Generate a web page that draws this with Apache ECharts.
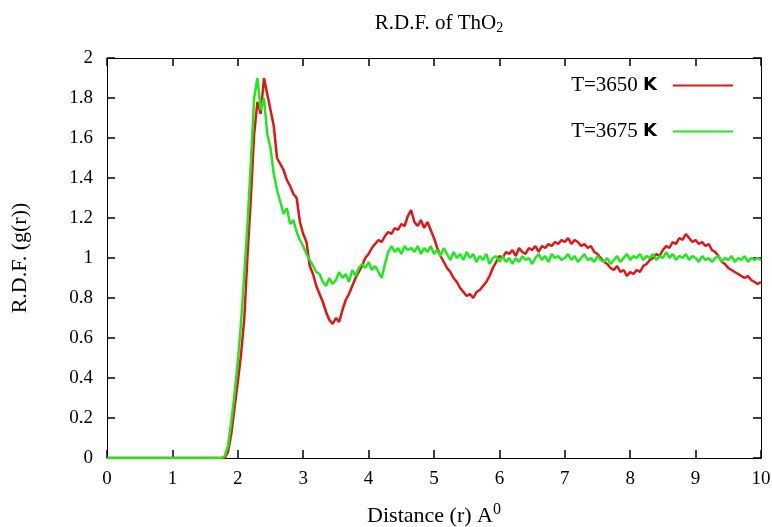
<!DOCTYPE html>
<html>
<head>
<meta charset="utf-8">
<script src="https://cdn.jsdelivr.net/npm/echarts@6/dist/echarts.min.js"></script>
<style>
  html, body { margin: 0; padding: 0; background: #fff; }
  #rdf { width: 772px; height: 527px; }
</style>
</head>
<body>
<div id="rdf"></div>
<script>
// samples are taken every 0.05 A, starting at r = 0
const rStep = 0.05;
const seriesNames = ['T=3650 K', 'T=3675 K'];
const xTicks = [0, 1, 2, 3, 4, 5, 6, 7, 8, 9, 10];

// T=3650 K
const g3650 = [
  0,0,0,0,0,0,0,0,0,0, 0,0,0,0,0,0,0,0,0,0, 0,0,0,0,0,0,0,0,0,0, 0,0,0,0,0,0,
  0.00,0.03,0.12,0.25,0.38,0.52,0.70,1.02,1.30,1.62,
  1.78,1.72,1.90,1.82,1.74,1.66,1.50,1.47,1.44,1.39,
  1.36,1.32,1.30,1.18,1.12,1.08,0.96,0.92,0.86,0.82,
  0.78,0.73,0.69,0.67,0.70,0.68,0.74,0.79,0.82,0.86,
  0.90,0.93,0.96,1.00,1.02,1.05,1.07,1.09,1.08,1.11,
  1.13,1.12,1.15,1.14,1.17,1.16,1.21,1.24,1.18,1.16,
  1.19,1.15,1.18,1.14,1.10,1.05,1.01,0.98,0.95,0.93,
  0.90,0.88,0.85,0.83,0.81,0.82,0.80,0.83,0.84,0.86,
  0.88,0.91,0.95,0.98,1.01,1.00,1.03,1.02,1.04,1.01,
  1.05,1.03,1.02,1.05,1.04,1.06,1.03,1.06,1.05,1.07,
  1.06,1.08,1.07,1.09,1.08,1.10,1.07,1.09,1.08,1.06,
  1.07,1.05,1.06,1.03,1.02,1.00,0.98,0.97,0.95,0.94,
  0.96,0.93,0.94,0.91,0.93,0.92,0.94,0.93,0.96,0.97,
  0.99,1.00,1.02,1.01,1.04,1.06,1.05,1.08,1.07,1.10,
  1.09,1.12,1.10,1.08,1.09,1.07,1.08,1.06,1.07,1.04,
  1.03,1.01,0.98,0.97,0.95,0.94,0.93,0.92,0.91,0.90,
  0.91,0.89,0.88,0.87,0.88
];

// T=3675 K
const g3675 = [
  0,0,0,0,0,0,0,0,0,0, 0,0,0,0,0,0,0,0,0,0, 0,0,0,0,0,0,0,0,0,0, 0,0,0,0,0,0,
  0.01,0.06,0.18,0.32,0.48,0.68,0.92,1.18,1.48,1.80,
  1.90,1.74,1.80,1.62,1.55,1.42,1.34,1.28,1.22,1.25,
  1.17,1.19,1.13,1.09,1.06,1.02,0.99,0.96,0.93,0.92,
  0.88,0.86,0.90,0.87,0.89,0.93,0.90,0.92,0.88,0.94,
  0.91,0.95,0.97,0.95,0.98,0.94,0.96,0.93,0.90,0.97,
  1.03,1.06,1.03,1.05,1.02,1.06,1.04,1.05,1.03,1.06,
  1.02,1.05,1.03,1.06,1.02,1.04,1.01,1.05,1.02,0.99,
  1.03,1.00,1.02,0.99,1.03,1.00,1.02,0.98,1.01,0.99,
  1.02,0.97,1.00,1.01,0.98,1.01,0.98,1.00,0.97,1.00,
  0.98,1.01,0.99,1.00,0.97,1.00,1.02,0.99,1.01,0.98,
  1.02,1.00,1.01,0.99,1.00,1.02,0.99,1.01,0.98,1.00,
  1.02,0.99,1.00,0.98,1.01,0.99,0.98,1.00,0.97,0.99,
  1.01,0.98,1.00,1.02,0.99,1.01,1.00,1.02,0.99,1.01,
  1.00,1.02,0.99,1.01,1.00,1.03,1.00,1.02,0.99,1.01,
  1.00,1.02,0.99,1.01,1.00,0.98,1.01,0.99,1.00,0.98,
  1.00,1.01,0.98,1.00,0.99,1.01,0.98,1.00,0.99,1.01,
  0.98,1.00,0.99,1.00,0.99
];

const serif = '"Liberation Serif", "DejaVu Serif", serif';
const colors = ['#e41414', '#1ee81e'];
const TICK = 8; // inward tick length in px

function toPairs(arr) {
  return arr.map((g, i) => [+(i * rStep).toFixed(2), g]);
}

const myChart = echarts.init(document.getElementById('rdf'));

// frame border lines (all four sides), no ticks of their own
function frameAxis(extra) {
  return Object.assign({
    axisLine: { show: true, onZero: false, lineStyle: { color: '#000', width: 1 } },
    axisTick: { show: false },
    splitLine: { show: false }
  }, extra);
}

// thin strips along the inside of the frame: their split lines are the inward ticks
function tickAxis(gridIndex, min, max, interval) {
  return {
    type: 'value', gridIndex: gridIndex, min: min, max: max, interval: interval,
    axisLine: { show: false }, axisTick: { show: false }, axisLabel: { show: false },
    splitLine: { show: true, lineStyle: { color: '#000', width: 1.5 } }
  };
}
function blankAxis(gridIndex) {
  return {
    type: 'value', gridIndex: gridIndex, min: 0, max: 1,
    axisLine: { show: false }, axisTick: { show: false }, axisLabel: { show: false },
    splitLine: { show: false }
  };
}

const option = {
  animation: false,
  color: colors,
  title: {
    text: 'R.D.F. of ThO{sub|2}',
    left: 434,
    textAlign: 'center',
    top: 6,
    textStyle: {
      fontFamily: serif,
      fontSize: 21,
      fontWeight: 'normal',
      color: '#000',
      rich: {
        sub: { fontFamily: serif, fontSize: 14, verticalAlign: 'bottom', padding: [10, 0, 0, 0], color: '#000' }
      }
    }
  },
  legend: {
    orient: 'vertical',
    right: 34,
    top: 70,
    align: 'right',
    itemGap: 25,
    itemWidth: 60,
    itemHeight: 2,
    icon: 'rect',
    data: seriesNames,
    formatter: (name) => name.replace(' K', ' {k|K}'),
    textStyle: {
      fontFamily: serif,
      fontSize: 21,
      color: '#000',
      padding: [0, 11, 0, 0],
      rich: {
        k: { fontFamily: '"DejaVu Sans", sans-serif', fontWeight: 'bold', fontSize: 18, color: '#000' }
      }
    }
  },
  grid: [
    { left: 107, right: 11, top: 58, bottom: 69, outerBoundsMode: 'none' },
    { left: 107, right: 11, bottom: 69, height: TICK, outerBoundsMode: 'none' },  // bottom ticks
    { left: 107, right: 11, top: 58, height: TICK, outerBoundsMode: 'none' },     // top ticks
    { left: 107, width: TICK, top: 58, bottom: 69, outerBoundsMode: 'none' },     // left ticks
    { right: 11, width: TICK, top: 58, bottom: 69, outerBoundsMode: 'none' }      // right ticks
  ],
  xAxis: [
    frameAxis({
      type: 'value',
      min: 0, max: 10, interval: 1,
      name: 'Distance (r) A{sup|0}',
      nameLocation: 'middle',
      nameGap: 44,
      nameTextStyle: {
        fontFamily: serif, fontSize: 22, color: '#000',
        rich: { sup: { fontFamily: serif, fontSize: 16, verticalAlign: 'top', padding: [0, 0, 12, 0], color: '#000' } }
      },
      axisLabel: { fontFamily: serif, fontSize: 19, color: '#000', margin: 12,
        formatter: (v) => xTicks.includes(v) ? String(v) : '' }
    }),
    frameAxis({
      type: 'value', position: 'top', min: 0, max: 10, interval: 1,
      axisLabel: { show: false }
    }),
    tickAxis(1, 0, 10, 1),
    tickAxis(2, 0, 10, 1),
    blankAxis(3),
    blankAxis(4)
  ],
  yAxis: [
    frameAxis({
      type: 'value',
      min: 0, max: 2, interval: 0.2,
      name: 'R.D.F. (g(r))',
      nameLocation: 'middle',
      nameGap: 76,
      nameTextStyle: { fontFamily: serif, fontSize: 22, color: '#000' },
      axisLabel: { fontFamily: serif, fontSize: 19, color: '#000', margin: 14,
        formatter: (v) => String(+v.toFixed(1)) }
    }),
    frameAxis({
      type: 'value', position: 'right', min: 0, max: 2, interval: 0.2,
      axisLabel: { show: false }
    }),
    blankAxis(1),
    blankAxis(2),
    tickAxis(3, 0, 2, 0.2),
    tickAxis(4, 0, 2, 0.2)
  ],
  series: [
    {
      name: seriesNames[0],
      type: 'line',
      data: toPairs(g3650),
      showSymbol: false,
      lineStyle: { width: 2.5, color: colors[0] },
      z: 3
    },
    {
      name: seriesNames[1],
      type: 'line',
      data: toPairs(g3675),
      showSymbol: false,
      lineStyle: { width: 2.5, color: colors[1] },
      z: 4
    }
  ]
};

myChart.setOption(option);
</script>
</body>
</html>
